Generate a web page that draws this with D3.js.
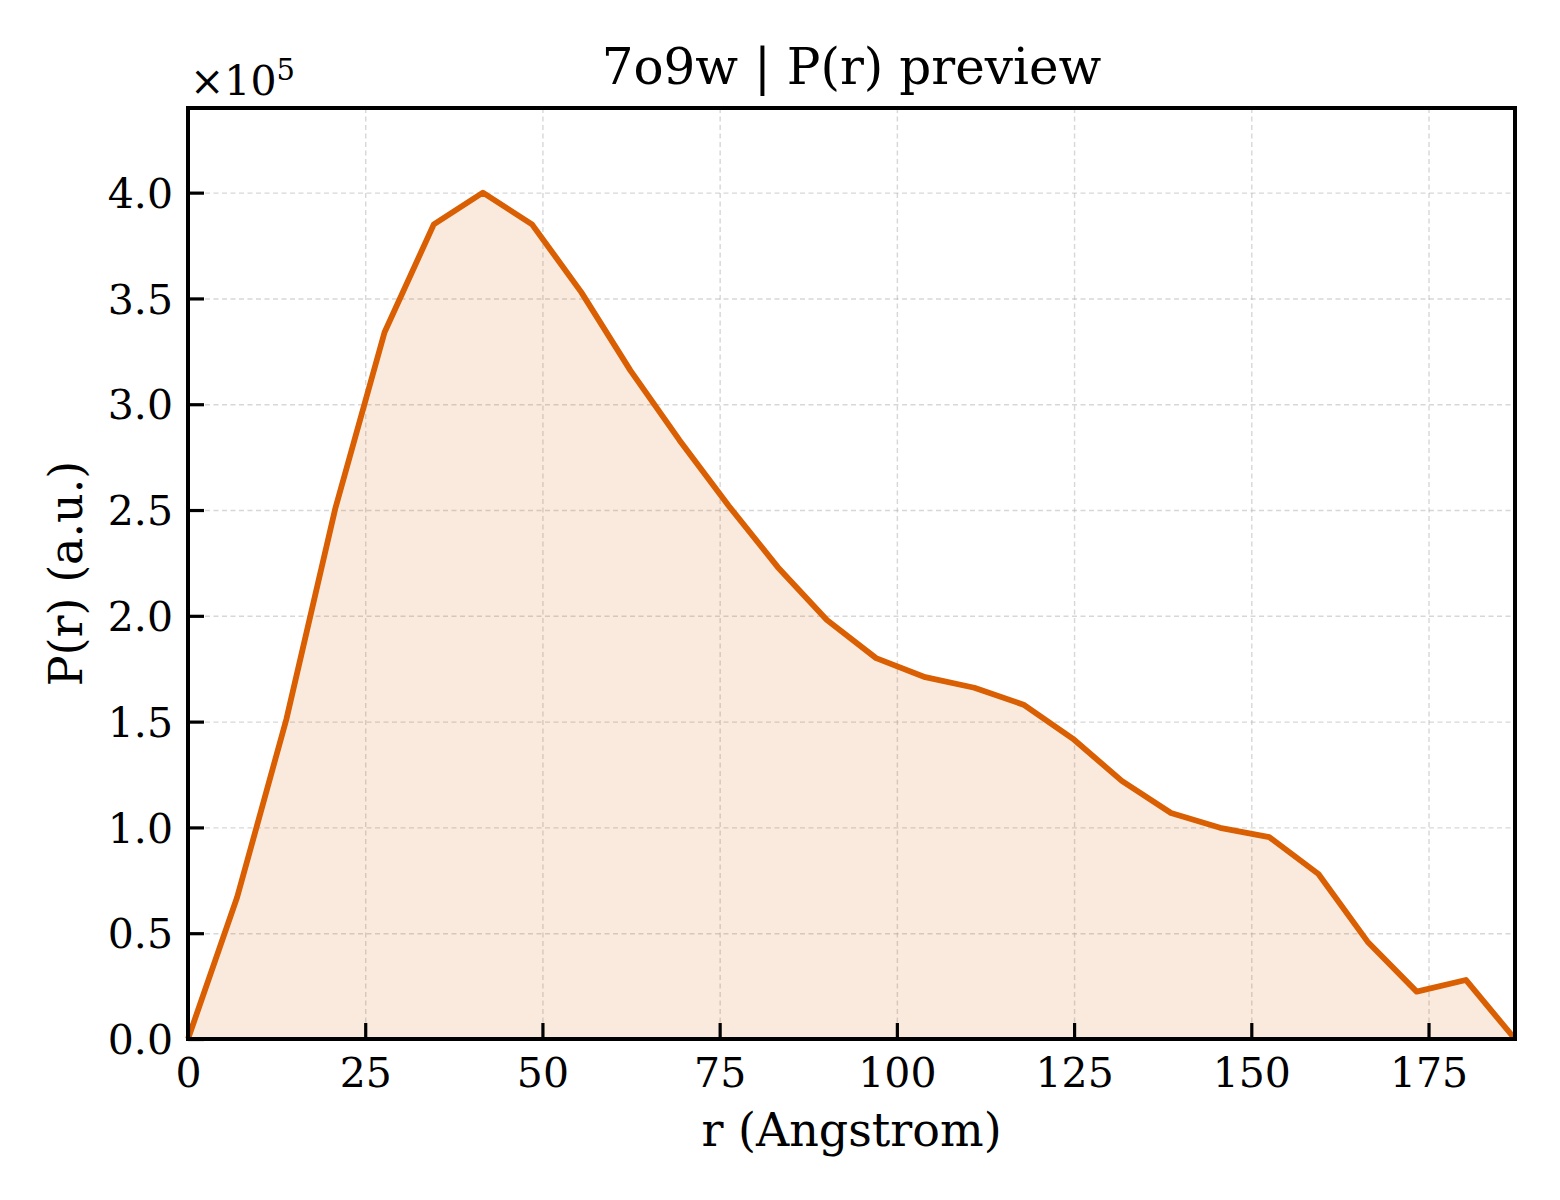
<!DOCTYPE html>
<html>
<head>
<meta charset="utf-8">
<script src="https://cdn.jsdelivr.net/npm/d3@7"></script>
<style>
  body { margin: 0; background: #fff; }
  svg text { font-family: "DejaVu Serif", serif; fill: #000; }
</style>
</head>
<body>
<svg id="chart" width="1560" height="1200"></svg>
<script>
// r grid (Angstrom) and P(r) values
const rValues = [0, 6.93, 13.87, 20.80, 27.73, 34.67, 41.60, 48.53, 55.47, 62.40,
  69.33, 76.27, 83.20, 90.13, 97.07, 104.00, 110.93, 117.87, 124.80, 131.73,
  138.67, 145.60, 152.53, 159.47, 166.40, 173.33, 180.27, 187.20];
const prValues = [0, 67000, 151000, 251000, 334000, 385000, 400000, 385000, 353000, 316000,
  283000, 252000, 223000, 198000, 180000, 171000, 166000, 158000, 142000, 122000,
  106800, 99800, 95400, 78000, 46000, 22400, 27900, 0];
const xTicks = [0, 25, 50, 75, 100, 125, 150, 175];
const yTicks = [0, 50000, 100000, 150000, 200000, 250000, 300000, 350000, 400000];

const title = '7o9w | P(r) preview';
const xLabel = 'r (Angstrom)';
const yLabel = 'P(r) (a.u.)';

function renderPrChart() {
  const svg = d3.select('#chart');
  const margin = {top: 108, right: 45, bottom: 161, left: 188};
  const width = 1560, height = 1200;
  const chartWidth = width - margin.left - margin.right;
  const chartHeight = height - margin.top - margin.bottom;
  const lineColor = '#d95f02';
  const data = rValues.map((r, i) => ({r: r, p: prValues[i]}));

  const g = svg.append('g').attr('transform', `translate(${margin.left},${margin.top})`);

  // Scales
  const x = d3.scaleLinear().domain([0, 187.2]).range([0, chartWidth]);
  const y = d3.scaleLinear().domain([0, 440000]).range([chartHeight, 0]);

  // Grid lines
  g.append('g')
    .call(d3.axisBottom(x).tickValues(xTicks.slice(1)).tickSize(chartHeight).tickFormat(''))
    .call(s => s.select('.domain').remove())
    .selectAll('line')
    .attr('stroke', '#b0b0b0').attr('stroke-opacity', 0.5)
    .attr('stroke-width', 1.4).attr('stroke-dasharray', '5,3.5');
  g.append('g')
    .call(d3.axisLeft(y).tickValues(yTicks.slice(1)).tickSize(-chartWidth).tickFormat(''))
    .call(s => s.select('.domain').remove())
    .selectAll('line')
    .attr('stroke', '#b0b0b0').attr('stroke-opacity', 0.5)
    .attr('stroke-width', 1.4).attr('stroke-dasharray', '5,3.5');

  // Filled area and curve
  g.append('path')
    .datum(data)
    .attr('fill', lineColor)
    .attr('fill-opacity', 0.13)
    .attr('d', d3.area().x(d => x(d.r)).y0(y(0)).y1(d => y(d.p)));
  g.append('path')
    .datum(data)
    .attr('fill', 'none')
    .attr('stroke', lineColor)
    .attr('stroke-width', 5.8)
    .attr('stroke-linejoin', 'round')
    .attr('d', d3.line().x(d => x(d.r)).y(d => y(d.p)));

  // X axis (ticks pointing inward)
  const xAxis = g.append('g')
    .attr('transform', `translate(0,${chartHeight})`)
    .call(d3.axisBottom(x).tickValues(xTicks).tickSizeInner(-16).tickSizeOuter(0).tickPadding(19).tickFormat(d3.format('d')));
  xAxis.select('.domain').remove();
  xAxis.selectAll('line').attr('stroke', '#000').attr('stroke-width', 3.2);
  xAxis.selectAll('text').attr('font-size', 41).attr('font-family', 'DejaVu Serif').attr('fill', '#000');

  // Y axis
  const yAxis = g.append('g')
    .call(d3.axisLeft(y).tickValues(yTicks).tickSizeInner(-16).tickSizeOuter(0).tickPadding(15)
      .tickFormat(d => (d / 1e5).toFixed(1)));
  yAxis.select('.domain').remove();
  yAxis.selectAll('line').attr('stroke', '#000').attr('stroke-width', 3.2);
  yAxis.selectAll('text').attr('font-size', 41).attr('font-family', 'DejaVu Serif').attr('fill', '#000')
    .attr('dy', '0.36em');

  // Frame
  g.append('rect')
    .attr('width', chartWidth).attr('height', chartHeight)
    .attr('fill', 'none').attr('stroke', '#000').attr('stroke-width', 4);

  // Offset label
  const off = svg.append('text').attr('x', 190).attr('y', 95).attr('font-size', 41);
  off.append('tspan').text('\u00d710');
  off.append('tspan').attr('dy', -15).attr('font-size', 29).text('5');

  // Title and axis labels
  svg.append('text')
    .attr('x', margin.left + chartWidth / 2).attr('y', 84)
    .attr('text-anchor', 'middle').attr('font-size', 50)
    .text(title);
  svg.append('text')
    .attr('x', margin.left + chartWidth / 2).attr('y', 1146)
    .attr('text-anchor', 'middle').attr('font-size', 46)
    .text(xLabel);
  svg.append('text')
    .attr('transform', `translate(82,${margin.top + chartHeight / 2}) rotate(-90)`)
    .attr('text-anchor', 'middle').attr('font-size', 46)
    .text(yLabel);
}

renderPrChart();
</script>
</body>
</html>
